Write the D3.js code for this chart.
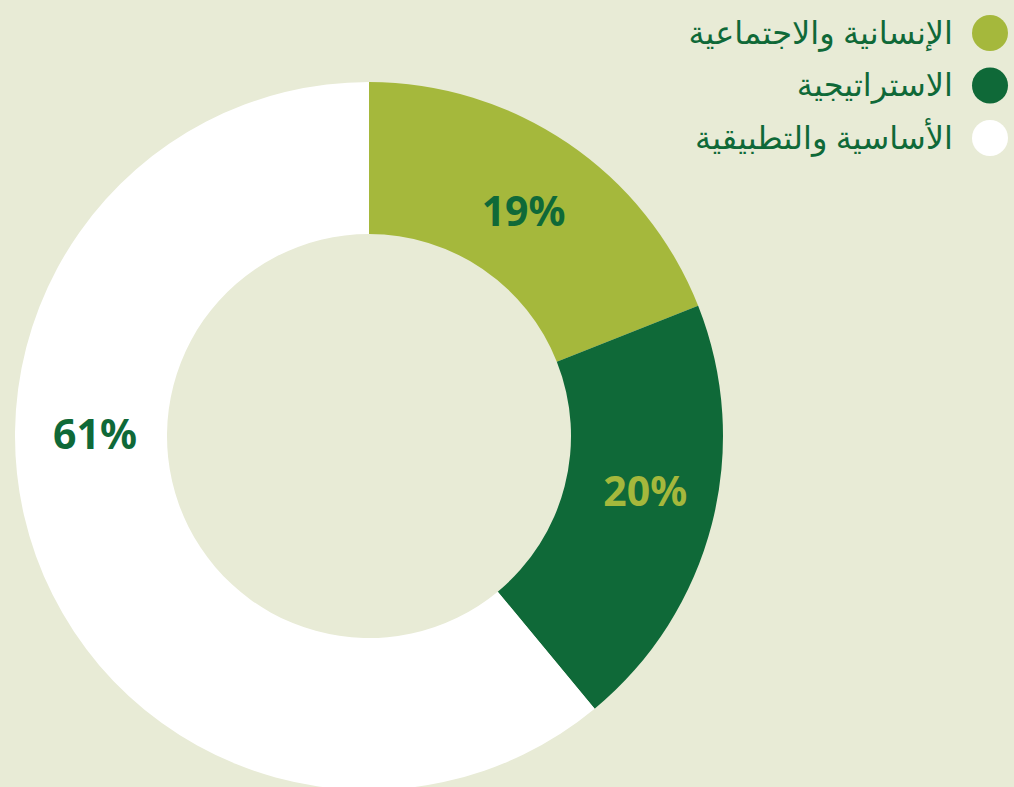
<!DOCTYPE html>
<html lang="ar">
<head>
<meta charset="utf-8">
<script src="https://cdn.jsdelivr.net/npm/d3@7"></script>
<style>
  html, body { margin: 0; padding: 0; background: #e8ebd6; }
  svg { display: block; }
</style>
</head>
<body>
<svg id="chart" width="1014" height="787"></svg>
<script>
// Share of research by field
const categories = ["الإنسانية والاجتماعية", "الاستراتيجية", "الأساسية والتطبيقية"];
const values = [19, 20, 61];
const sliceColors = ["#a5b83c", "#0f6938", "#ffffff"];
const labelColors = ["#0f6938", "#a5b83c", "#0f6938"];

const svg = d3.select("#chart");
const cx = 369, cy = 436;
const outerR = 354, innerR = 202;

const pie = d3.pie().sort(null).value(d => d)(values);
const arc = d3.arc().innerRadius(innerR).outerRadius(outerR);

const g = svg.append("g").attr("transform", `translate(${cx},${cy})`);

g.selectAll("path.slice")
  .data(pie)
  .join("path")
  .attr("class", "slice")
  .attr("d", arc)
  .attr("fill", (d, i) => sliceColors[i]);

// Percentage labels: near the ring's middle; the large slice's label sits at the left
const labelArc = d3.arc().innerRadius(275).outerRadius(275);
function labelPos(d, i) {
  if (i === 2) {
    const a = 1.5 * Math.PI;
    return [274 * Math.sin(a), -274 * Math.cos(a) - 3];
  }
  const c = labelArc.centroid(d);
  if (i === 1) {
    const a = (d.startAngle + d.endAngle) / 2 - 0.05;
    return [282 * Math.sin(a), -282 * Math.cos(a) - 2];
  }
  return [c[0], c[1] + 1];
}

g.selectAll("text.pct")
  .data(pie)
  .join("text")
  .attr("class", "pct")
  .attr("transform", (d, i) => `translate(${labelPos(d, i)})`)
  .attr("text-anchor", "middle")
  .attr("dominant-baseline", "central")
  .attr("font-family", "'Noto Sans', sans-serif")
  .attr("font-weight", 700)
  .attr("font-size", 41)
  .attr("fill", (d, i) => labelColors[i])
  .text(d => d.data + "%");

// Legend, right-aligned in the top-right corner
const legendY = d3.scalePoint().domain(categories).range([33, 138]);
const legend = svg.append("g");
const item = legend.selectAll("g")
  .data(categories)
  .join("g")
  .attr("transform", d => `translate(0,${legendY(d)})`);

item.append("circle")
  .attr("cx", 990)
  .attr("r", 18)
  .attr("fill", (d, i) => sliceColors[i]);

item.append("text")
  .attr("x", 953)
  .attr("y", -2)
  .attr("direction", "rtl")
  .attr("text-anchor", "start")
  .attr("dominant-baseline", "central")
  .attr("font-family", "'Noto Sans', 'DejaVu Sans', sans-serif")
  .attr("font-size", 32)
  .attr("fill", "#0f6938")
  .text(d => d);
</script>
</body>
</html>
